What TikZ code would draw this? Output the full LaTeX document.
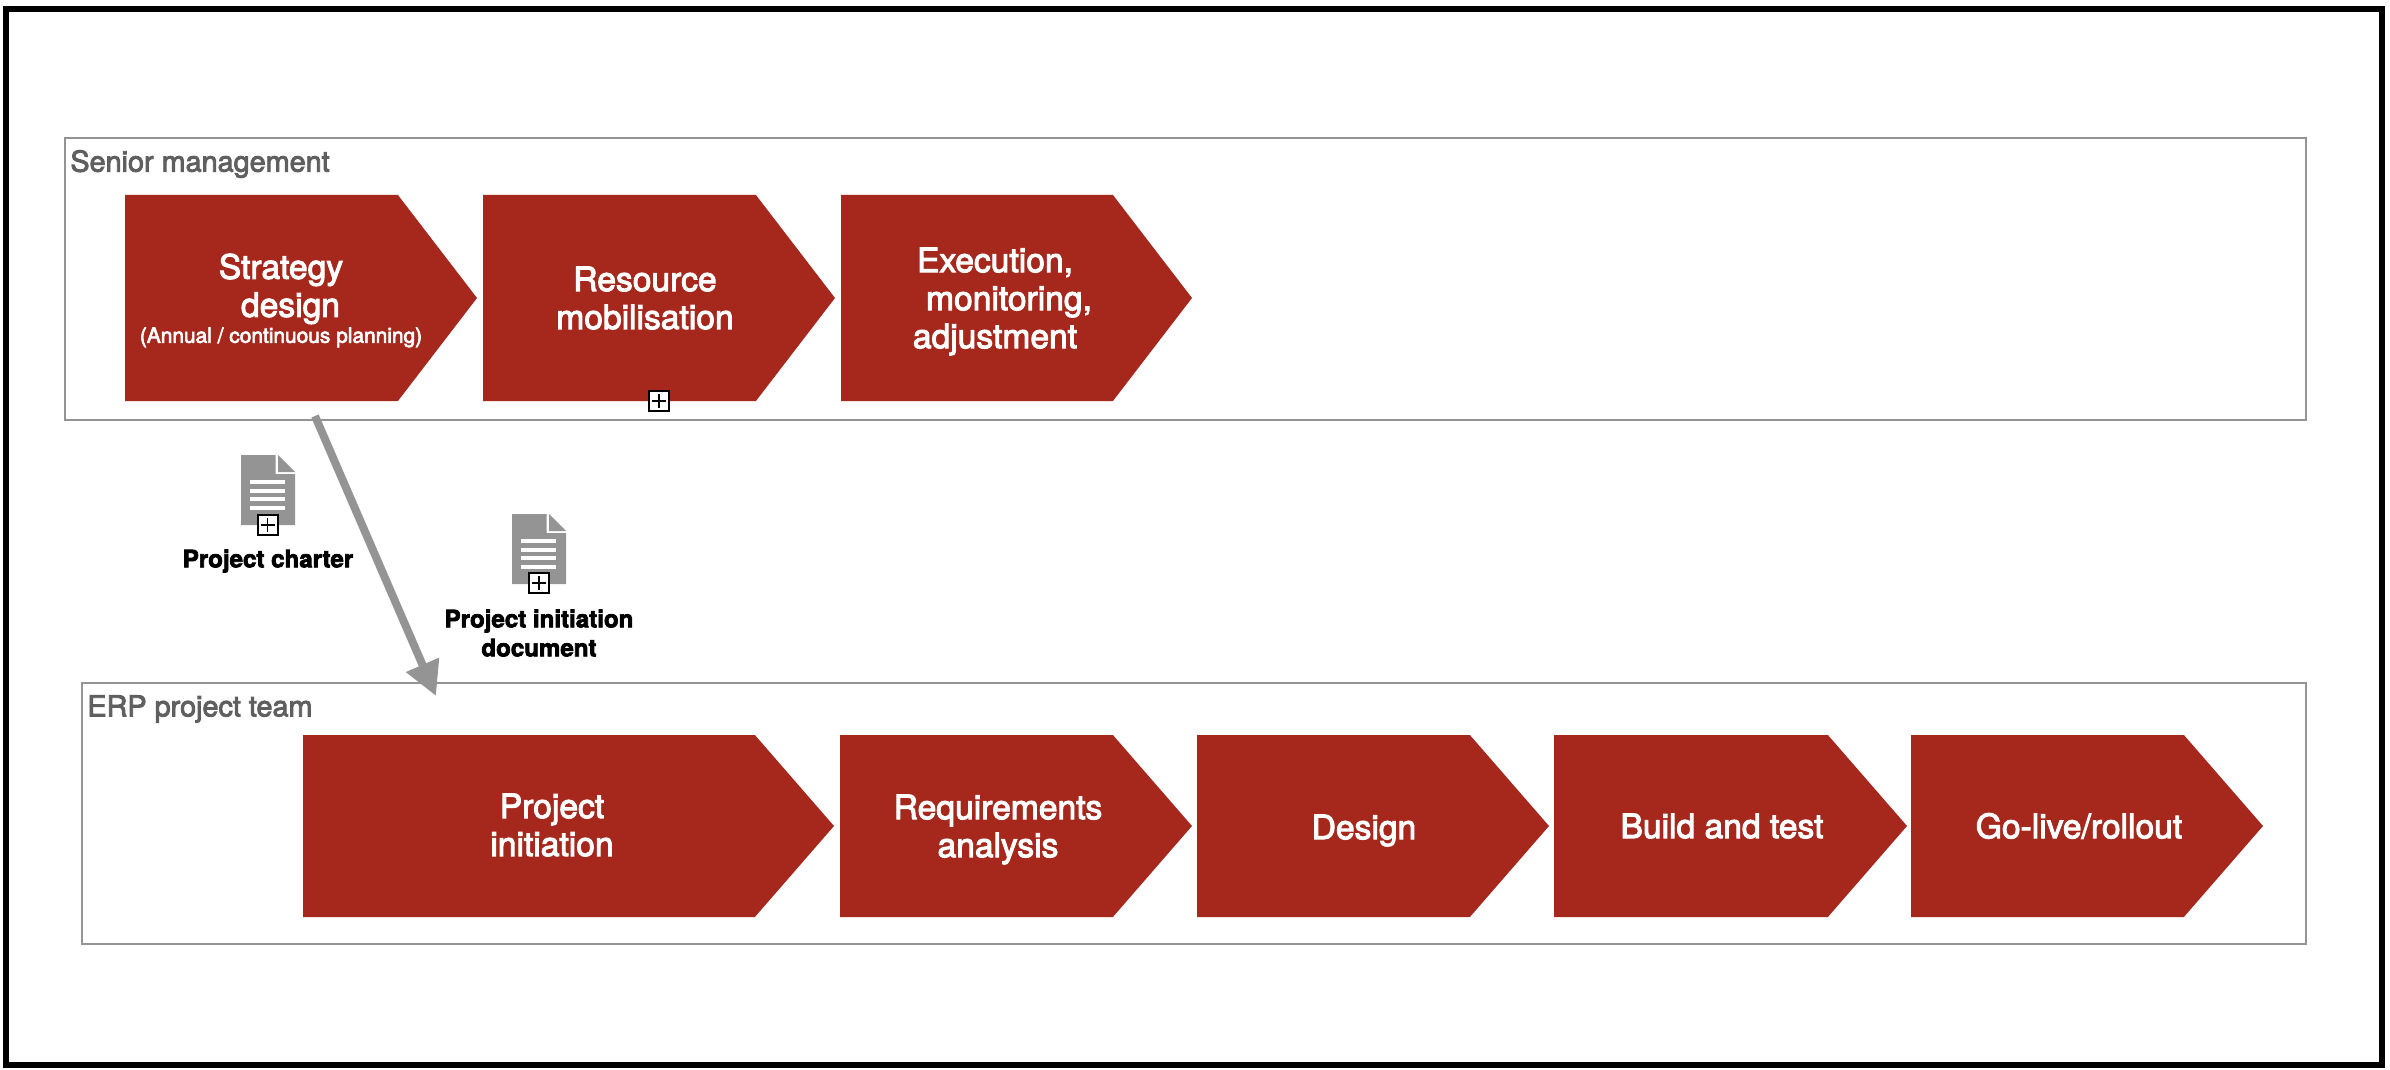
\documentclass[tikz,border=0pt]{standalone}
\usepackage{fontspec}
\setmainfont[FakeBold=3]{TeX Gyre Heros}
\usetikzlibrary{arrows.meta,shapes.symbols}
\definecolor{stagered}{HTML}{A6281C}
\definecolor{lanegray}{HTML}{949494}
\definecolor{titlegray}{HTML}{5F5F5F}
\newcommand{\stagefont}{\fontsize{16.8}{19}\selectfont}
\tikzset{
  lane/.style={draw=lanegray,line width=1pt,fill=white,anchor=north west,inner sep=0pt,outer sep=0pt},
  lanetitle/.style={text=titlegray,anchor=west,inner sep=0pt,font=\fontsize{14.4}{16}\selectfont},
  stage/.style={shape=signal,signal to=east,signal from=nowhere,fill=stagered,anchor=west,inner sep=0pt,outer sep=0pt},
  stagetop/.style={stage,minimum height=103pt,signal pointer angle=105},
  stagelow/.style={stage,minimum height=91pt,signal pointer angle=98},
  stagetext/.style={text=white,align=center,inner sep=0pt,font=\stagefont},
  doctext/.style={align=center,inner sep=0pt,font=\bfseries\fontsize{12.05}{14.5}\selectfont},
  plusbox/.style={draw=black,fill=white,line width=1pt,minimum size=10pt,inner sep=0pt,outer sep=0pt,
    path picture={\draw[line width=.7pt] ([yshift=-1.5pt]path picture bounding box.north) -- ([yshift=1.5pt]path picture bounding box.south)
      ([xshift=1.5pt]path picture bounding box.west) -- ([xshift=-1.5pt]path picture bounding box.east);}},
  flow/.style={draw=lanegray,line width=4pt,-{Triangle[length=17pt,width=17pt]}}
}
% document glyph, with its origin at the top left corner
\newcommand{\docicon}[2]{%
  \fill[lanegray] (#1,#2) -- ++(34.5,0) -- ++(0,19) -- ++(19.5,0) -- ++(0,51) -- ++(-54,0) -- cycle;
  \fill[lanegray] (#1+37,#2) -- ++(17,17) -- ++(-17,0) -- cycle;
  \foreach \ly in {27,36,44,53}
    \fill[white] (#1+9,#2+\ly-1.75) rectangle ++(35,3.5);
}
\begin{document}
\begin{tikzpicture}[x=.5pt,y=-.5pt]
\useasboundingbox (0,0) rectangle (2390,1070);
\draw[line width=3pt] (6,9) rectangle (2382,1065);

\node[lane,minimum width=1120.5pt,minimum height=141pt] (senior) at (65,138) {};
\node[lane,minimum width=1112pt,minimum height=130.5pt] (team) at (82,683) {};
\node[lanetitle] (seniortitle) at (70,164) {Senior management};
\node[lanetitle] (teamtitle) at (87,709) {ERP project team};

% senior management stages
\node[stagetop,minimum width=176pt] (strategy) at (125,298) {};
\node[stagetop,minimum width=176pt] (resource) at (483,298) {};
\node[stagetop,minimum width=175.5pt] (execution) at (841,298) {};
\node[stagetext] (strategytext) at (281,300.5) {Strategy\\\hspace*{9.5pt}design\\[-6pt]{\fontsize{10.45}{12}\selectfont (Annual / continuous planning)}};
\node[stagetext] (resourcetext) at (645,298) {Resource\\mobilisation};
\node[stagetext] (executiontext) at (995,301.5) {Execution,\\\hspace*{14pt}monitoring,\\adjustment};

% project team stages
\node[stagelow,minimum width=265.5pt] (initiation) at (303,826) {};
\node[stagelow,minimum width=176pt] (requirements) at (840,826) {};
\node[stagelow,minimum width=176pt] (design) at (1197,826) {};
\node[stagelow,minimum width=176.5pt] (build) at (1554,826) {};
\node[stagelow,minimum width=176pt] (golive) at (1911,826) {};
\node[stagetext] (initiationtext) at (552,825) {Project\\initiation};
\node[stagetext] (requirementstext) at (998,829.5) {Requirements\\analysis};
\node[stagetext] (designtext) at (1364,830.5) {Design};
\node[stagetext] (buildtext) at (1722,826) {Build and test};
\node[stagetext] (golivetext) at (2079,826) {Go-live/rollout};

\node[plusbox] (resourceplus) at (659,401) {};

% documents
\docicon{241}{455}
\docicon{512}{514}
\node[plusbox] (charterplus) at (267.5,525) {};
\node[plusbox] (pidplus) at (539,583) {};
\node[doctext] (charter) at (268,561) {Project charter};
\node[doctext] (pid) at (539,633) {Project initiation\\document};

\coordinate (flowstart) at (315,416);
\coordinate (flowend) at (436,696);
\draw[flow] (flowstart) -- (flowend);
\end{tikzpicture}
\end{document}
